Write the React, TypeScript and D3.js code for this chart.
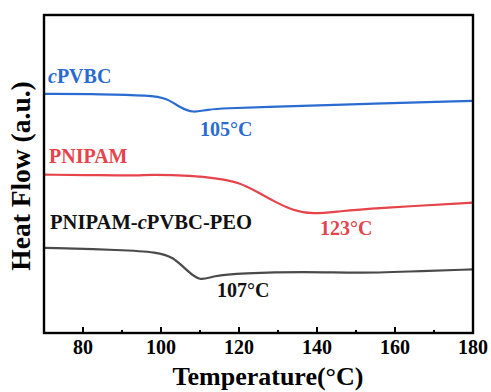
import React from 'react';
import * as d3 from 'd3';

// DSC traces, temperature (°C) vs heat flow (a.u.)
const cpvbcT = [70, 85, 97, 101.5, 105, 108.2, 111.8, 117, 125, 150, 180];
const cpvbcHF = [75.2, 75.1, 74.7, 73.9, 70.8, 69.2, 70.3, 70.7, 71.0, 72.0, 73.0];

const pnipamT = [70, 85, 94.6, 97, 108, 114.4, 120.3, 124.6, 128.7, 133.8, 138.7, 145.9, 154.4, 180];
const pnipamHF = [49.8, 49.6, 49.5, 49.8, 49.5, 48.6, 47.3, 44.4, 41.6, 38.5, 37.3, 38.3, 39.2, 41.0];

const blendT = [70, 90.3, 99, 103, 106.7, 110, 113.3, 120.3, 137.4, 150.3, 163, 180];
const blendHF = [26.8, 26.1, 25.4, 24.0, 19.6, 16.2, 18.0, 18.8, 19.3, 18.8, 19.3, 20.0];

const majorTicks = [80, 100, 120, 140, 160, 180];
const minorTicks = [90, 110, 130, 150, 170];

const series = [
  { name: 'cPVBC', t: cpvbcT, hf: cpvbcHF, color: '#2a6bd1' },
  { name: 'PNIPAM', t: pnipamT, hf: pnipamHF, color: '#e6434b' },
  { name: 'PNIPAM-cPVBC-PEO', t: blendT, hf: blendHF, color: '#4a4a4a' },
];

const txt: React.CSSProperties = {
  fontFamily: "'Times New Roman', Times, 'Liberation Serif', 'DejaVu Serif', serif",
  fontWeight: 700,
};

export default function App() {
  const width = 491;
  const height = 392;
  const left = 44, right = 473, top = 15, bottom = 333;

  const x = d3.scaleLinear().domain([70, 180]).range([left, right]);
  const y = d3.scaleLinear().domain([0, 100]).range([bottom, top]);

  const line = d3.line<[number, number]>()
    .x(d => x(d[0]))
    .y(d => y(d[1]))
    .curve(d3.curveBasis);

  return (
    <svg width={width} height={height} style={{ position: 'absolute', left: 0, top: 0 }}>
      <rect width={width} height={height} fill="#fff" />

      {series.map(s => (
        <path key={s.name}
          d={line(s.t.map((t, i) => [t, s.hf[i]] as [number, number])) || ''}
          fill="none" stroke={s.color} strokeWidth={2.2} strokeLinejoin="round" />
      ))}

      {/* frame */}
      <rect x={left} y={top} width={right - left} height={bottom - top}
        fill="none" stroke="#000" strokeWidth={2.4} />

      {/* ticks, pointing inward */}
      {majorTicks.map(t => (
        <g key={t}>
          <line x1={x(t)} x2={x(t)} y1={bottom} y2={bottom - 6} stroke="#000" strokeWidth={2} />
          <text x={x(t)} y={354} textAnchor="middle" fontSize={20} style={txt}>{t}</text>
        </g>
      ))}
      {minorTicks.map(t => (
        <line key={t} x1={x(t)} x2={x(t)} y1={bottom} y2={bottom - 3} stroke="#000" strokeWidth={2} />
      ))}

      {/* axis titles */}
      <text x={268} y={385} textAnchor="middle" fontSize={26} style={txt}>Temperature(°C)</text>
      <text transform="translate(30,176) rotate(-90)" textAnchor="middle" fontSize={27.5} style={txt}>Heat Flow (a.u.)</text>

      {/* curve labels */}
      <text x={48} y={83} fontSize={20} fill="#2a6bd1" style={txt}>
        <tspan fontStyle="italic">c</tspan>PVBC
      </text>
      <text x={200} y={136} fontSize={20} fill="#2a6bd1" style={txt}>105°C</text>

      <text x={49} y={163} fontSize={20} fill="#e6434b" style={txt}>PNIPAM</text>
      <text x={320} y={235} fontSize={20} fill="#e6434b" style={txt}>123°C</text>

      <text x={50} y={229} fontSize={20.6} fill="#111" style={txt}>
        PNIPAM-<tspan fontStyle="italic">c</tspan>PVBC-PEO
      </text>
      <text x={217} y={297} fontSize={20} fill="#111" style={txt}>107°C</text>
    </svg>
  );
}
